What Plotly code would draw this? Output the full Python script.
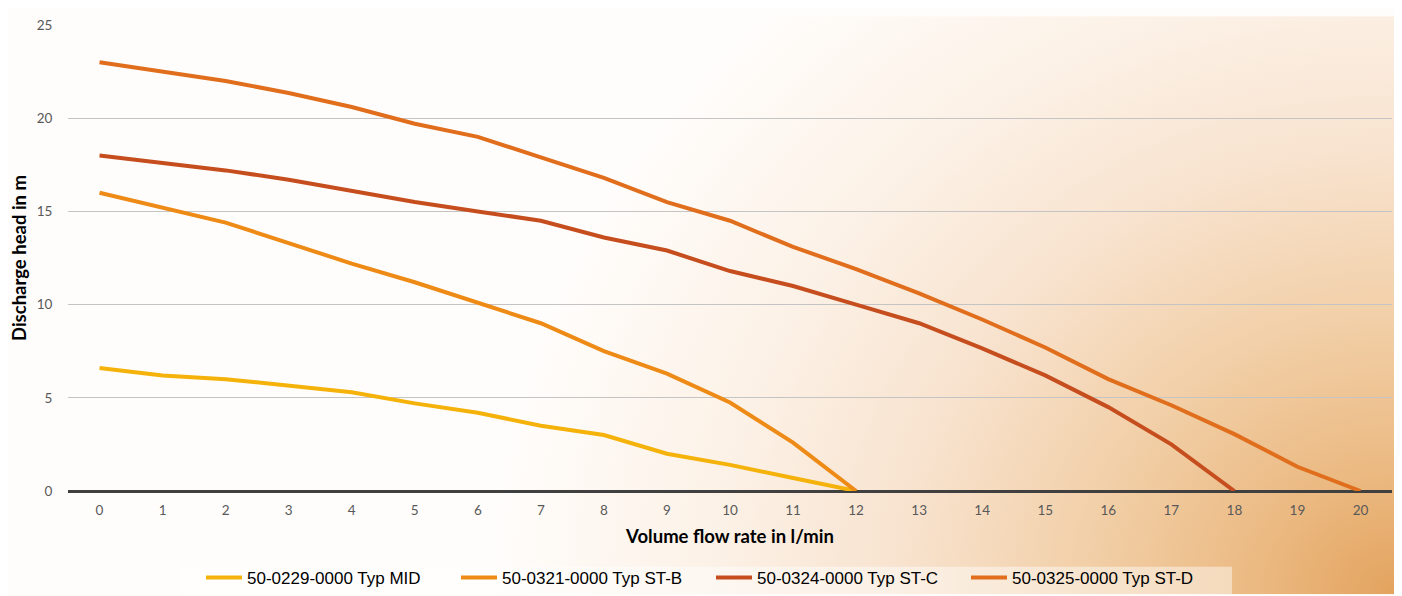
import base64
import plotly.graph_objects as go

flow = list(range(0, 21))

mid = [6.6, 6.2, 6.0, 5.65, 5.3, 4.7, 4.2, 3.5, 3.0, 2.0, 1.4, 0.7, 0.0]
st_b = [16.0, 15.2, 14.4, 13.3, 12.2, 11.2, 10.1, 9.0, 7.5, 6.3, 4.75, 2.6, 0.0]
st_c = [18.0, 17.6, 17.2, 16.7, 16.1, 15.5, 15.0, 14.5, 13.6, 12.9, 11.8, 11.0,
        10.0, 9.0, 7.65, 6.2, 4.5, 2.5, 0.0]
st_d = [23.0, 22.5, 22.0, 21.35, 20.6, 19.7, 19.0, 17.9, 16.8, 15.5, 14.5, 13.1,
        11.9, 10.6, 9.2, 7.7, 6.0, 4.6, 3.05, 1.3, 0.0]

names = ["50-0229-0000 Typ MID", "50-0321-0000 Typ ST-B",
         "50-0324-0000 Typ ST-C", "50-0325-0000 Typ ST-D"]
series = [mid, st_b, st_c, st_d]
colors = ["#F4B20A", "#EE8A16", "#C64E1E", "#E06E1C"]

# page body has an 8px margin, so the figure is sized to fit the window
W, H = 1394, 588
ML, MR, MT, MB = 60, 10, 9, 105
pw = W - ML - MR
ph = H - MT - MB

fig = go.Figure()
for name, vals, col in zip(names, series, colors):
    fig.add_trace(go.Scatter(
        x=flow[:len(vals)], y=vals, mode="lines", name=name,
        line=dict(color=col, width=4),
    ))

cx, cy = W - 8, H
svg = f'''<svg xmlns="http://www.w3.org/2000/svg" width="{W}" height="{H}" viewBox="0 0 {W} {H}" preserveAspectRatio="none">
<defs>
<radialGradient id="r" gradientUnits="userSpaceOnUse" cx="{cx}" cy="{cy}" r="820"
 gradientTransform="translate({cx} {cy}) scale(1.1 1) translate({-cx} {-cy})">
<stop offset="0" stop-color="#E3A35E"/>
<stop offset="0.15" stop-color="#EBB981"/>
<stop offset="0.35" stop-color="#F2D0A9"/>
<stop offset="0.55" stop-color="#F8E3CF"/>
<stop offset="0.75" stop-color="#FCF1E6"/>
<stop offset="1" stop-color="#FFFDFB"/>
</radialGradient>
</defs>
<rect x="0" y="0" width="{W}" height="{H}" fill="url(#r)"/>
</svg>'''
src = "data:image/svg+xml;base64," + base64.b64encode(svg.encode()).decode()

fig.add_layout_image(dict(
    source=src, xref="paper", yref="paper",
    x=-ML / pw, y=1 + MT / ph, sizex=W / pw, sizey=H / ph,
    xanchor="left", yanchor="top", sizing="stretch", layer="below",
))

# lighter band behind the legend
lx0, lx1, ly0, ly1 = 172, 1224, 560, 588
fig.add_shape(
    type="rect", xref="paper", yref="paper", layer="below",
    x0=(lx0 - ML) / pw, x1=(lx1 - ML) / pw,
    y0=-(ly1 - MT - ph) / ph, y1=-(ly0 - MT - ph) / ph,
    fillcolor="rgba(255,255,255,0.45)", line=dict(width=0),
)

tickfont = dict(family="Lato, Arial, sans-serif", size=13.5, color="#595959")
titlefont = dict(family="Lato, Arial, sans-serif", size=18.5, color="#000000", weight="bold")

fig.update_layout(
    width=W, height=H,
    margin=dict(l=ML, r=MR, t=MT, b=MB),
    paper_bgcolor="#FFFDFB",
    plot_bgcolor="rgba(0,0,0,0)",
    xaxis=dict(
        range=[-0.5, 20.5], tickmode="linear", tick0=0, dtick=1,
        showgrid=False, zeroline=False, showline=False,
        ticks="outside", ticklen=7, tickcolor="rgba(0,0,0,0)",
        tickfont=tickfont,
        title=dict(text="Volume flow rate in l/min", font=titlefont, standoff=12),
    ),
    yaxis=dict(
        range=[0, 25], tickmode="linear", tick0=0, dtick=5,
        showgrid=True, gridcolor="#C4C4C4", gridwidth=1,
        zeroline=True, zerolinecolor="#404040", zerolinewidth=2.5,
        ticks="outside", ticklen=12, tickcolor="rgba(0,0,0,0)",
        tickfont=tickfont,
        title=dict(text="Discharge head in m", font=titlefont, standoff=6),
    ),
    legend=dict(
        orientation="h", xref="container", yref="container",
        x=703 / W, xanchor="center", y=0, yanchor="bottom",
        bgcolor="rgba(0,0,0,0)",
        font=dict(family="Liberation Sans, Arial, sans-serif", size=17, color="#000000"),
        entrywidth=204, entrywidthmode="pixels", itemwidth=36,
    ),
    showlegend=True,
)

fig.write_html("out.html")
